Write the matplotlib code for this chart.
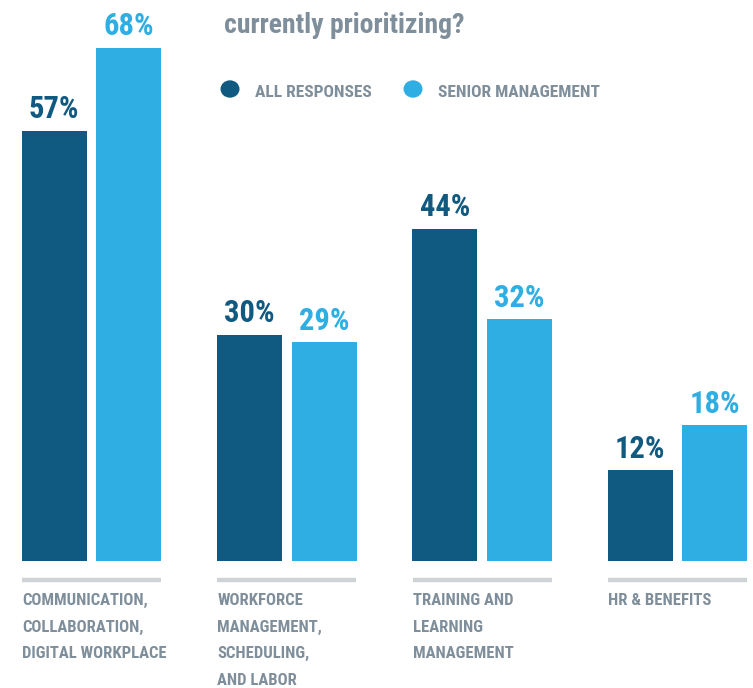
import matplotlib
matplotlib.use("Agg")
import matplotlib.pyplot as plt
from matplotlib.patches import Circle

categories = ["COMMUNICATION,\nCOLLABORATION,\nDIGITAL WORKPLACE",
              "WORKFORCE\nMANAGEMENT,\nSCHEDULING,\nAND LABOR",
              "TRAINING AND\nLEARNING\nMANAGEMENT",
              "HR & BENEFITS"]
all_responses = [57, 30, 44, 12]
senior_mgmt = [68, 29, 32, 18]
series_names = ["ALL RESPONSES", "SENIOR MANAGEMENT"]
title = "currently prioritizing?"

DARK = "#105a82"
LIGHT = "#2eaee3"
GRAY_TXT = "#7f8e9b"
GRAY_LINE = "#cfd3d6"
FONT = ["Roboto Condensed", "DejaVu Sans"]

W, H = 753, 688
fig = plt.figure(figsize=(W / 100, H / 100), dpi=100)
base_px = 561
px_per_pct = 7.55
ax = fig.add_axes([0, (H - base_px) / H, 1, base_px / H])
ax.set_ylim(0, base_px / px_per_pct)
spacing = 195.33
ax.set_xlim(-91.5 / spacing, (W - 91.5) / spacing)
ax.axis("off")

bw = 65 / spacing
off = 37.25 / spacing
xs = list(range(len(categories)))
for i in xs:
    for val, dx, col in [(all_responses[i], -off, DARK), (senior_mgmt[i], off, LIGHT)]:
        ax.bar(i + dx, val, width=bw, color=col, linewidth=0)
        ax.text(i + dx, val + 12.5 / px_per_pct, f"{val}%", ha="center", va="baseline",
                color=col, fontsize=22, fontweight="bold", family=FONT)
    half = 69.5 / spacing
    yline = -(580 - base_px) / px_per_pct
    ax.plot([i - half, i + half], [yline, yline], color=GRAY_LINE, lw=3.2,
            solid_capstyle="butt", clip_on=False)
    for k, line in enumerate(categories[i].split("\n")):
        ax.text(i - half, -(605 + 26.7 * k - base_px) / px_per_pct, line, ha="left",
                va="baseline", color=GRAY_TXT, fontsize=12, fontweight="bold",
                family=FONT, clip_on=False)

fig.text(224 / W, 1 - 33 / H, title, ha="left", va="baseline", color=GRAY_TXT,
         fontsize=20, fontweight="bold", family=FONT)

# legend
for cx, col, name, tx in [(230, DARK, series_names[0], 255), (413, LIGHT, series_names[1], 438)]:
    fig.patches.append(Circle((cx / W, 1 - 89 / H), 9.5 / W, transform=fig.transFigure,
                              color=col, ec="none"))
    fig.text(tx / W, 1 - 97 / H, name, ha="left", va="baseline", color=GRAY_TXT,
             fontsize=12.5, fontweight="bold", family=FONT)

fig.savefig("out.png", dpi=100)
